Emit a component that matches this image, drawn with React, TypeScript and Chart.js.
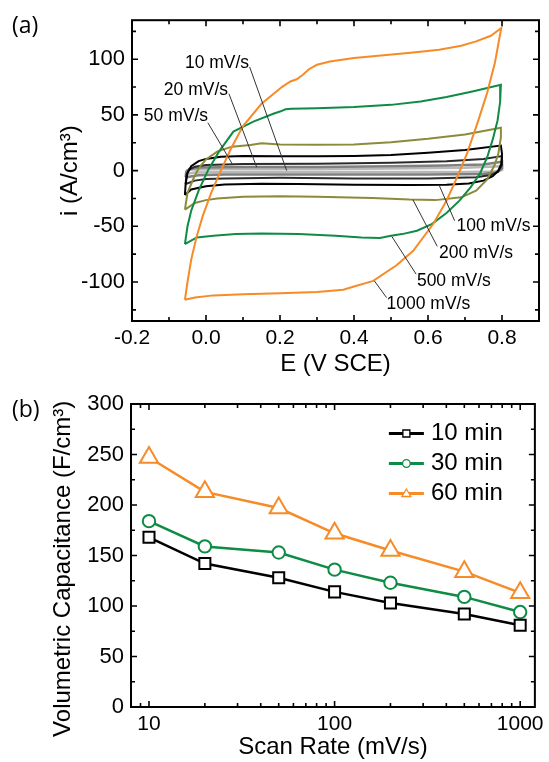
import React, { useEffect, useRef } from 'react';
import { Chart, registerables } from 'chart.js';
Chart.register(...registerables);

const FONT = "'Liberation Sans', Arial, sans-serif";

// ---------- Panel (a): cyclic voltammograms ----------
const E_1000 = [-0.057, -0.05, -0.04, -0.026, -0.008, 0.014, 0.04, 0.068, 0.1, 0.15, 0.205, 0.228, 0.245, 0.262, 0.278, 0.3, 0.335, 0.4, 0.48, 0.56, 0.63, 0.69, 0.73, 0.77, 0.798, 0.781, 0.76, 0.735, 0.705, 0.68, 0.65, 0.614, 0.56, 0.515, 0.452, 0.4, 0.371, 0.3, 0.2, 0.1, 0.02, -0.03, -0.057];
const I_1000 = [-116, -100, -80, -60, -40, -20, 0, 20, 40, 60, 75, 80, 82, 86, 91, 95, 98, 101, 103.5, 106, 108.5, 112, 116, 121, 128, 97, 70, 44, 15, -5, -27, -48, -72, -85, -99, -104, -107, -109, -110, -111, -112, -114, -116];

const E_500 = [-0.057, -0.05, -0.04, -0.02, 0.005, 0.035, 0.074, 0.128, 0.182, 0.2, 0.215, 0.23, 0.3, 0.4, 0.5, 0.58, 0.65, 0.72, 0.797, 0.795, 0.788, 0.775, 0.76, 0.74, 0.715, 0.685, 0.65, 0.61, 0.57, 0.53, 0.5, 0.47, 0.42, 0.35, 0.25, 0.15, 0.08, 0.02, -0.025, -0.057];
const I_500 = [-66, -50, -36, -18, 0, 17, 35, 44, 51, 53, 55, 55.5, 56, 57, 59, 62, 66, 71, 77, 62, 45, 28, 12, -3, -15, -27, -38, -48, -54, -57, -58.5, -60.5, -60, -58.5, -57, -56.5, -57, -58.5, -60, -66];

const E_200 = [-0.057, -0.05, -0.035, -0.02, 0.0, 0.03, 0.07, 0.12, 0.15, 0.2, 0.3, 0.4, 0.5, 0.6, 0.7, 0.797, 0.797, 0.79, 0.78, 0.76, 0.73, 0.69, 0.62, 0.55, 0.45, 0.3, 0.2, 0.1, 0.03, 0.0, -0.03, -0.057];
const I_200 = [-35, -20, -8, 2, 10, 17, 21.5, 23, 24.5, 23.5, 23.2, 23.5, 25.5, 28.5, 32.5, 38.5, 30, 15, 5, -8, -18, -24, -26.5, -26, -24.5, -23.5, -23, -23.5, -25, -26.5, -29, -35];

const E_100 = [-0.057, -0.055, -0.05, -0.04, -0.02, 0.0, 0.04, 0.1, 0.2, 0.3, 0.4, 0.5, 0.6, 0.7, 0.797, 0.8, 0.798, 0.79, 0.775, 0.75, 0.71, 0.65, 0.55, 0.4, 0.25, 0.15, 0.05, 0.0, -0.04, -0.057];
const I_100 = [-22, -12, -2, 4, 8.5, 10.5, 12.5, 13, 12.8, 12.8, 13.2, 14, 16, 18.5, 22.5, 15, 6, 0, -5, -9, -11.5, -12.8, -13, -12.8, -12, -11.8, -12.5, -14, -17, -22];

const E_50 = [-0.055, -0.053, -0.045, -0.03, 0.0, 0.1, 0.3, 0.5, 0.65, 0.75, 0.8, 0.8, 0.79, 0.77, 0.73, 0.6, 0.4, 0.2, 0.05, 0.0, -0.03, -0.055];
const I_50 = [-12, -4, 1, 3.5, 5, 6, 6.2, 7, 8.5, 10.5, 13, 5, -1, -4, -6, -7, -7, -6.5, -7, -7.5, -9, -12];

const E_20 = [-0.055, -0.053, -0.045, -0.02, 0.1, 0.3, 0.5, 0.65, 0.75, 0.8, 0.8, 0.785, 0.75, 0.6, 0.4, 0.2, 0.05, -0.02, -0.055];
const I_20 = [-6, -1, 1.5, 2.8, 3.2, 3.3, 3.8, 4.5, 5.5, 8, 2, -1.5, -3, -3.6, -3.6, -3.4, -3.6, -4.2, -6];

const E_10 = [-0.055, -0.052, -0.04, 0.1, 0.3, 0.5, 0.7, 0.8, 0.8, 0.78, 0.7, 0.4, 0.1, -0.03, -0.055];
const I_10 = [-3, 0, 1, 1.4, 1.5, 1.8, 2.5, 4, 0.5, -0.8, -1.2, -1.2, -1.2, -1.8, -3];

const X_TICKS_A = [-0.2, 0, 0.2, 0.4, 0.6, 0.8];
const X_MINOR_A = [-0.1, 0.1, 0.3, 0.5, 0.7];
const Y_TICKS_A = [-100, -50, 0, 50, 100];
const Y_MINOR_A = [-125, -75, -25, 25, 75, 125];

// annotation text, text anchor (left, middle) and leader line, in data units
const CV_ANNOT = [
  { text: '10 mV/s', at: [-0.057, 96], from: [0.118, 93], to: [0.218, 0] },
  { text: '20 mV/s', at: [-0.114, 72], from: [0.062, 69], to: [0.137, 3] },
  { text: '50 mV/s', at: [-0.168, 49], from: [0.005, 43], to: [0.071, 6] },
  { text: '100 mV/s', at: [0.677, -50], from: [0.672, -45], to: [0.63, -13] },
  { text: '200 mV/s', at: [0.63, -74], from: [0.625, -68], to: [0.559, -26] },
  { text: '500 mV/s', at: [0.57, -99], from: [0.568, -93], to: [0.502, -59] },
  { text: '1000 mV/s', at: [0.488, -120], from: [0.488, -114], to: [0.455, -99] },
];

// ---------- Panel (b): capacitance vs scan rate ----------
const SCAN_RATES = [10, 20, 50, 100, 200, 500, 1000];
const CAP_10MIN = [168, 142, 128, 114, 103, 92, 81];
const CAP_30MIN = [184, 159, 153, 136, 123, 109, 94];
const CAP_60MIN = [247, 213, 197, 172, 155, 134, 113];
const SERIES_B = ['10 min', '30 min', '60 min'];

const X_TICKS_B = [10, 100, 1000];
const X_MINOR_B = [9, 20, 30, 40, 50, 60, 70, 80, 90, 200, 300, 400, 500, 600, 700, 800, 900];
const Y_TICKS_B = [0, 50, 100, 150, 200, 250, 300];
const Y_MINOR_B = [25, 75, 125, 175, 225, 275];

const ORANGE = '#F68B28';
const GREEN = '#0E8C45';
const OLIVE = '#8B8B3A';

function pts(xs: number[], ys: number[]) {
  return xs.map((x, i) => ({ x, y: ys[i] }));
}

function framePlugin(xMaj: number[], xMin: number[], yMaj: number[], yMin: number[]) {
  return {
    id: 'frameTicks',
    afterDraw(chart: any) {
      const { ctx, chartArea: { left, right, top, bottom }, scales: { x, y } } = chart;
      ctx.save();
      ctx.strokeStyle = '#000';
      ctx.lineWidth = 1.6;
      const drawX = (vals: number[], len: number) => {
        for (const v of vals) {
          const px = x.getPixelForValue(v);
          ctx.beginPath();
          ctx.moveTo(px, bottom); ctx.lineTo(px, bottom - len);
          ctx.moveTo(px, top); ctx.lineTo(px, top + len);
          ctx.stroke();
        }
      };
      const drawY = (vals: number[], len: number) => {
        for (const v of vals) {
          const py = y.getPixelForValue(v);
          ctx.beginPath();
          ctx.moveTo(left, py); ctx.lineTo(left + len, py);
          ctx.moveTo(right, py); ctx.lineTo(right - len, py);
          ctx.stroke();
        }
      };
      drawX(xMaj, 6); drawX(xMin, 4); drawY(yMaj, 6); drawY(yMin, 4);
      ctx.lineWidth = 2;
      ctx.strokeRect(left, top, right - left, bottom - top);
      ctx.restore();
    },
  };
}

function panelLabelPlugin(text: string, px: number, py: number) {
  return {
    id: 'panelLabel',
    afterDraw(chart: any) {
      const { ctx } = chart;
      ctx.save();
      ctx.font = "23px 'Open Sans', sans-serif";
      ctx.fillStyle = '#000';
      ctx.textAlign = 'left';
      ctx.textBaseline = 'middle';
      ctx.fillText(text, px, py);
      ctx.restore();
    },
  };
}

const annotPlugin = {
  id: 'cvAnnot',
  afterDatasetsDraw(chart: any) {
    const { ctx, scales: { x, y } } = chart;
    ctx.save();
    ctx.strokeStyle = '#333';
    ctx.lineWidth = 1;
    ctx.fillStyle = '#000';
    ctx.font = `17.5px ${FONT}`;
    ctx.textAlign = 'left';
    ctx.textBaseline = 'middle';
    for (const a of CV_ANNOT) {
      ctx.beginPath();
      ctx.moveTo(x.getPixelForValue(a.from[0]), y.getPixelForValue(a.from[1]));
      ctx.lineTo(x.getPixelForValue(a.to[0]), y.getPixelForValue(a.to[1]));
      ctx.stroke();
      ctx.fillText(a.text, x.getPixelForValue(a.at[0]), y.getPixelForValue(a.at[1]));
    }
    ctx.restore();
  },
};

const legendBPlugin = {
  id: 'legendB',
  afterDraw(chart: any) {
    const { ctx, chartArea } = chart;
    const x0 = chartArea.right - 146;
    const x1 = chartArea.right - 111;
    const xm = (x0 + x1) / 2;
    const tx = chartArea.right - 104;
    ctx.save();
    chart.data.datasets.forEach((ds: any, i: number) => {
      const yy = chartArea.top + 29.5 + i * 30;
      ctx.strokeStyle = ds.borderColor;
      ctx.lineWidth = 3;
      ctx.beginPath(); ctx.moveTo(x0, yy); ctx.lineTo(x1, yy); ctx.stroke();
      ctx.fillStyle = '#fff';
      ctx.lineWidth = 1.3;
      ctx.beginPath();
      if (ds.pointStyle === 'rect') {
        ctx.rect(xm - 3.5, yy - 3.5, 7, 7);
      } else if (ds.pointStyle === 'circle') {
        ctx.arc(xm, yy, 3.8, 0, Math.PI * 2);
      } else {
        ctx.moveTo(xm, yy - 4.5); ctx.lineTo(xm + 4.5, yy + 3); ctx.lineTo(xm - 4.5, yy + 3); ctx.closePath();
      }
      ctx.fill(); ctx.stroke();
      ctx.fillStyle = '#000';
      ctx.font = `24px ${FONT}`;
      ctx.textAlign = 'left';
      ctx.textBaseline = 'middle';
      ctx.fillText(SERIES_B[i], tx, yy);
    });
    ctx.restore();
  },
};

const xTickFont = { family: FONT, size: 21 };
const yTickFont = { family: FONT, size: 22 };
const titleFont = { family: FONT, size: 24 };

export default function App() {
  const refA = useRef<HTMLCanvasElement>(null);
  const refB = useRef<HTMLCanvasElement>(null);

  useEffect(() => {
    const cv = (label: string, xs: number[], ys: number[], color: string, w = 2) => ({
      label, data: pts(xs, ys), borderColor: color, borderWidth: w, showLine: true,
      pointRadius: 0, fill: false, tension: 0,
    });
    const chartA = new Chart(refA.current!, {
      type: 'scatter',
      data: {
        datasets: [
          cv('1000 mV/s', E_1000, I_1000, ORANGE),
          cv('500 mV/s', E_500, I_500, GREEN),
          cv('200 mV/s', E_200, I_200, OLIVE),
          cv('100 mV/s', E_100, I_100, '#000'),
          cv('50 mV/s', E_50, I_50, '#2a2a2a'),
          cv('20 mV/s', E_20, I_20, '#808080', 2.5),
          cv('10 mV/s', E_10, I_10, '#b8b8b8', 2.5),
        ] as any,
      },
      options: {
        responsive: false,
        animation: false,
        layout: { padding: { left: 0, right: 10, top: 18, bottom: 0 } },
        plugins: { legend: { display: false }, tooltip: { enabled: false } },
        scales: {
          x: {
            type: 'linear', min: -0.2, max: 0.9,
            afterFit: (s: any) => { s.height = 59; },
            afterBuildTicks: (s: any) => { s.ticks = X_TICKS_A.map((v) => ({ value: v })); },
            grid: { display: false, drawTicks: false }, border: { display: false },
            ticks: { padding: 5, color: '#000', font: xTickFont, maxRotation: 0, callback: (v: any) => Number(v).toFixed(1) },
            title: { display: true, text: 'E (V SCE)', color: '#000', font: titleFont, padding: { top: 0, bottom: 1 } },
          },
          y: {
            type: 'linear', min: -135, max: 135,
            afterFit: (s: any) => { s.width = 132; },
            afterBuildTicks: (s: any) => { s.ticks = Y_TICKS_A.map((v) => ({ value: v })); },
            grid: { display: false, drawTicks: false }, border: { display: false },
            ticks: { padding: 7, color: '#000', font: yTickFont, callback: (v: any) => String(v) },
            title: { display: true, text: 'i (A/cm³)', color: '#000', font: titleFont, padding: { top: 56, bottom: 0 } },
          },
        },
      } as any,
      plugins: [annotPlugin, framePlugin(X_TICKS_A, X_MINOR_A, Y_TICKS_A, Y_MINOR_A), panelLabelPlugin('(a)', 12, 26)],
    });

    const ser = (label: string, ys: number[], color: string, style: string, r: number) => ({
      label, data: pts(SCAN_RATES, ys), borderColor: color, borderWidth: 2.5,
      pointStyle: style, pointRadius: r, pointBorderWidth: 2, pointBorderColor: color,
      pointBackgroundColor: '#fff', fill: false, tension: 0,
    });
    const chartB = new Chart(refB.current!, {
      type: 'line',
      data: {
        datasets: [
          ser(SERIES_B[0], CAP_10MIN, '#000', 'rect', 7.8),
          ser(SERIES_B[1], CAP_30MIN, GREEN, 'circle', 6.2),
          ser(SERIES_B[2], CAP_60MIN, ORANGE, 'triangle', 10.5),
        ] as any,
      },
      options: {
        responsive: false,
        animation: false,
        layout: { padding: { left: 0, right: 8, top: 24, bottom: 0 } },
        plugins: { legend: { display: false }, tooltip: { enabled: false } },
        scales: {
          x: {
            type: 'logarithmic', min: 8, max: 1200,
            afterFit: (s: any) => { s.height = 55; },
            afterBuildTicks: (s: any) => { s.ticks = X_TICKS_B.map((v) => ({ value: v })); },
            grid: { display: false, drawTicks: false }, border: { display: false },
            ticks: { padding: 5, color: '#000', font: xTickFont, maxRotation: 0, callback: (v: any) => String(v) },
            title: { display: true, text: 'Scan Rate (mV/s)', color: '#000', font: titleFont, padding: { top: 0, bottom: 0 } },
          },
          y: {
            type: 'linear', min: 0, max: 300,
            afterFit: (s: any) => { s.width = 131; },
            afterBuildTicks: (s: any) => { s.ticks = Y_TICKS_B.map((v) => ({ value: v })); },
            grid: { display: false, drawTicks: false }, border: { display: false },
            ticks: { padding: 7, color: '#000', font: yTickFont, callback: (v: any) => String(v) },
            title: { display: true, text: 'Volumetric Capacitance (F/cm³)    ', color: '#000', font: titleFont, padding: { top: 49, bottom: 0 } },
          },
        },
      } as any,
      plugins: [legendBPlugin, framePlugin([], [], Y_TICKS_B, Y_MINOR_B), {
        id: 'logTicks',
        afterDraw(chart: any) {
          const { ctx, chartArea: { top, bottom }, scales: { x } } = chart;
          ctx.save(); ctx.strokeStyle = '#000'; ctx.lineWidth = 1.6;
          const draw = (vals: number[], len: number) => vals.forEach((v) => {
            const px = x.getPixelForValue(v);
            ctx.beginPath(); ctx.moveTo(px, bottom); ctx.lineTo(px, bottom - len);
            ctx.moveTo(px, top); ctx.lineTo(px, top + len); ctx.stroke();
          });
          draw(X_TICKS_B, 6); draw(X_MINOR_B, 4);
          ctx.restore();
        },
      }, panelLabelPlugin('(b)', 12, 30)],
    });

    return () => { chartA.destroy(); chartB.destroy(); };
  }, []);

  return (
    <div style={{ position: 'absolute', left: 0, top: 0, width: 549, height: 762, background: '#fff' }}>
      <canvas ref={refA} width={549} height={380} style={{ position: 'absolute', left: 0, top: 0 }} />
      <canvas ref={refB} width={549} height={382} style={{ position: 'absolute', left: 0, top: 380 }} />
    </div>
  );
}
